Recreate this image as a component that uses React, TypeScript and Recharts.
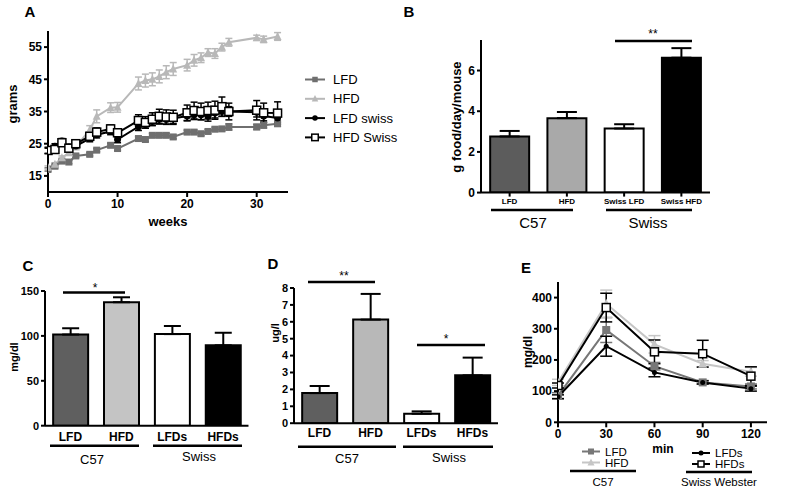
import React from 'react';
import { LineChart, Line, BarChart, Bar, Cell, XAxis, YAxis, ErrorBar } from 'recharts';

const FONT = "'Liberation Sans', Arial, Helvetica, sans-serif";

// A: body weight over time
const weeks = [0, 1, 2, 3, 4, 6, 7, 9, 10, 13, 14, 15, 16, 17, 18, 20, 21, 22, 23, 24, 25, 26, 30, 31, 33];
const lfdWeight = [17, 18, 19.6, 19.3, 21.2, 21.7, 23, 24.5, 23.5, 26.6, 26.3, 27.6, 27.6, 27.6, 27.1, 28.6, 28.6, 28.1, 28.8, 29.5, 29.6, 30.2, 30.2, 30.7, 31.2];
const lfdWeightErr = [0.5, 0.5, 0.5, 0.5, 0.5, 0.5, 0.5, 0.6, 0.6, 0.6, 0.6, 0.6, 0.6, 0.6, 0.6, 0.6, 0.6, 0.6, 0.6, 0.6, 0.6, 1, 0.8, 0.8, 0.8];
const hfdWeight = [17.6, 18.6, 20.6, 22.2, 24, 29.3, 33.5, 36.2, 36.3, 43.7, 44.6, 45, 45.9, 47.2, 48.2, 49.4, 50.9, 51.7, 53.3, 53, 55, 56.5, 57.9, 57.4, 58.3];
const hfdWeightErr = [0.5, 0.5, 0.6, 0.6, 0.6, 1.3, 2, 1.5, 1.5, 2, 2, 2, 2, 2, 2, 1.8, 1.8, 1.5, 1.2, 1.5, 1.2, 1.2, 0.8, 1, 1.2];
const lfdSwissWeight = [22.8, 24.2, 25.8, 24, 24.3, 26.6, 27.8, 28.8, 26.3, 30.3, 31, 32, 32.6, 32.5, 32.8, 33.6, 34, 34, 33.5, 34.5, 35, 35, 34.8, 33.6, 33];
const lfdSwissErr = [0.8, 0.8, 0.8, 0.8, 0.8, 1, 1, 1, 1, 1.2, 1.2, 1.2, 1.5, 1.5, 1.5, 1.5, 1.5, 1.5, 1.5, 1.5, 1.5, 1.5, 1.5, 1.5, 1.5];
const hfdSwissWeight = [22.9, 23.2, 25.3, 23.6, 25, 27.3, 28.6, 29.6, 28.4, 32.2, 31.6, 32.6, 33.5, 33.3, 33.2, 34.6, 35.3, 35, 35.3, 35.4, 36.5, 35, 35.4, 34.6, 34.5];
const hfdSwissErr = [1, 1, 1, 1, 1, 1.2, 1.3, 1.2, 1.2, 1.8, 1.8, 2, 2.2, 2.2, 2.2, 2.4, 2.6, 2.6, 2.6, 2.8, 3, 2.6, 3, 3, 3.5];

// B: food intake
const intakeGroups = ['LFD', 'HFD', 'Swiss LFD', 'Swiss HFD'];
const intake = [2.76, 3.66, 3.15, 6.63];
const intakeErr = [0.27, 0.3, 0.21, 0.47];

// C: glucose (mg/dl)
const bloodGroups = ['LFD', 'HFD', 'LFDs', 'HFDs'];
const glucose = [101.5, 137.5, 102, 89.5];
const glucoseErr = [7, 5.5, 9, 14];

// D: insulin (ug/l)
const insulin = [1.78, 6.13, 0.56, 2.83];
const insulinErr = [0.42, 1.52, 0.14, 1.05];

// E: glucose tolerance test
const minutes = [0, 30, 60, 90, 120];
const gttLfd = [85, 296, 180, 128, 115];
const gttLfdErr = [10, 40, 12, 6, 8];
const gttHfd = [128, 380, 250, 188, 162];
const gttHfdErr = [10, 44, 28, 10, 14];
const gttLfds = [82, 244, 160, 128, 108];
const gttLfdsErr = [6, 32, 14, 5, 8];
const gttHfds = [118, 368, 226, 220, 148];
const gttHfdsErr = [8, 46, 38, 43, 30];

const DARK = '#6f6f6f';
const LIGHT = '#b8b8b8';

const weightRows = weeks.map((w, i) => ({
  week: w,
  lfd: lfdWeight[i], lfdErr: lfdWeightErr[i],
  hfd: hfdWeight[i], hfdErr: hfdWeightErr[i],
  lfdS: lfdSwissWeight[i], lfdSErr: lfdSwissErr[i],
  hfdS: hfdSwissWeight[i], hfdSErr: hfdSwissErr[i],
}));

const gttRows = minutes.map((m, i) => ({
  min: m,
  lfd: gttLfd[i], lfdErr: gttLfdErr[i],
  hfd: gttHfd[i], hfdErr: gttHfdErr[i],
  lfds: gttLfds[i], lfdsErr: gttLfdsErr[i],
  hfds: gttHfds[i], hfdsErr: gttHfdsErr[i],
}));

const barRows = (names: string[], vals: number[], errs: number[]) =>
  names.map((n, i) => ({ name: n, value: vals[i], err: [0, errs[i]] }));

type Shape = 'square' | 'triangle' | 'circle' | 'open';

const drawMarker = (shape: Shape, color: string, size: number, cx: number, cy: number, k: string) => {
  const h = size / 2;
  if (shape === 'square') return <rect key={k} x={cx - h} y={cy - h} width={size} height={size} fill={color} />;
  if (shape === 'open')
    return <rect key={k} x={cx - h} y={cy - h} width={size} height={size} fill="#fff" stroke={color} strokeWidth={1.5} />;
  if (shape === 'circle') return <circle key={k} cx={cx} cy={cy} r={h} fill={color} />;
  return <polygon key={k} points={`${cx},${cy - h - 1} ${cx - h - 0.5},${cy + h} ${cx + h + 0.5},${cy + h}`} fill={color} />;
};

const dot = (shape: Shape, color: string, size: number, prefix: string) => (p: any) => {
  const k = `${prefix}-${p.index}`;
  if (p.cx == null || p.cy == null) return <g key={k} />;
  return drawMarker(shape, color, size, p.cx, p.cy, k);
};

// place a chart so that its plot area covers x0..x1, y0..y1 on the page
const place = (x0: number, x1: number, y0: number, y1: number, yw: number, xh: number, mt = 10, mr = 10) => ({
  style: { position: 'absolute' as const, left: x0 - yw, top: y0 - mt },
  width: x1 - x0 + yw + mr,
  height: y1 - y0 + mt + xh,
  margin: { top: mt, right: mr, bottom: 0, left: 0 },
  yw,
  xh,
});

const axisLine = { stroke: '#000', strokeWidth: 2 };
const tickFont = (size: number) => ({ fill: '#000', fontSize: size, fontWeight: 700, fontFamily: FONT });

const seriesA = [
  { key: 'lfd', name: 'LFD', color: DARK, shape: 'square' as Shape, size: 7 },
  { key: 'hfd', name: 'HFD', color: LIGHT, shape: 'triangle' as Shape, size: 7 },
  { key: 'lfdS', name: 'LFD swiss', color: '#000', shape: 'circle' as Shape, size: 7 },
  { key: 'hfdS', name: 'HFD Swiss', color: '#000', shape: 'open' as Shape, size: 8 },
];

const seriesE = [
  { key: 'lfd', name: 'LFD', color: '#777', shape: 'square' as Shape, size: 8, legend: 6 },
  { key: 'hfd', name: 'HFD', color: '#c6c6c6', shape: 'triangle' as Shape, size: 8, legend: 6 },
  { key: 'lfds', name: 'LFDs', color: '#000', shape: 'circle' as Shape, size: 5, legend: 5 },
  { key: 'hfds', name: 'HFDs', color: '#000', shape: 'open' as Shape, size: 8, legend: 6 },
];

const BarPanel = ({ rows, colors, box, domain, ticks, yTick, xTick, xTickSize, xTickLine, cap }: any) => (
  <div style={box.style}>
    <BarChart width={box.width} height={box.height} data={rows} margin={box.margin} barCategoryGap="16%">
      <XAxis dataKey="name" interval={0} axisLine={axisLine} tickLine={xTickLine ? axisLine : false}
        tickSize={xTickSize} tickMargin={2} tick={tickFont(xTick)} height={box.xh} />
      <YAxis domain={domain} ticks={ticks} interval={0} axisLine={axisLine} tickLine={axisLine} tickSize={4} tickMargin={2}
        tick={tickFont(yTick)} width={box.yw} allowDataOverflow />
      <Bar dataKey="value" stroke="#000" strokeWidth={2} isAnimationActive={false}>
        {rows.map((_r: any, i: number) => (
          <Cell key={`c-${i}`} fill={colors[i]} />
        ))}
        <ErrorBar dataKey="err" width={cap} stroke="#000" strokeWidth={2} direction="y" isAnimationActive={false} />
      </Bar>
    </BarChart>
  </div>
);

const Overlay = () => {
  const T = (x: number, y: number, s: string, size: number, bold = false, rot = false) => (
    <text x={x} y={y} textAnchor="middle" dominantBaseline="central" fontSize={size}
      fontWeight={bold ? 700 : 400} fontFamily={FONT} fill="#000"
      transform={rot ? `rotate(-90 ${x} ${y})` : undefined}>{s}</text>
  );
  const L = (x1: number, x2: number, y: number) => <line x1={x1} x2={x2} y1={y} y2={y} stroke="#000" strokeWidth={2.5} />;
  return (
    <svg width={794} height={492} style={{ position: 'absolute', left: 0, top: 0, pointerEvents: 'none' }}>
      {/* panel letters */}
      {T(30, 11, 'A', 15, true)}
      {T(409, 11, 'B', 15, true)}
      {T(28, 265, 'C', 15, true)}
      {T(273, 263, 'D', 15, true)}
      {T(526, 267, 'E', 15, true)}
      {/* A */}
      {T(12, 104, 'grams', 13, true, true)}
      {T(168, 221, 'weeks', 13, true)}
      {seriesA.map((s, i) => (
        <g key={s.key}>
          <line x1={305} x2={325} y1={79.5 + i * 19.3} y2={79.5 + i * 19.3} stroke={s.color} strokeWidth={2} />
          {drawMarker(s.shape, s.color, s.size - 1.5, 315, 79.5 + i * 19.3, `la-${i}`)}
          <text x={333} y={79.5 + i * 19.3} dominantBaseline="central" fontSize={13} fontFamily={FONT} fill="#000">{s.name}</text>
        </g>
      ))}
      {/* B */}
      {T(456, 117, 'g food/day/mouse', 13, true, true)}
      {L(615, 692, 41)}
      {T(653, 34, '**', 12)}
      {L(491, 573, 210)}
      {L(606, 692, 210)}
      {T(533, 222, 'C57', 15)}
      {T(648, 222, 'Swiss', 15)}
      {/* C */}
      {T(14, 357, 'mg/dl', 11, true, true)}
      {L(63, 125, 292.5)}
      {T(95, 288, '*', 12)}
      {L(50, 139, 445.7)}
      {L(153, 242, 445.7)}
      {T(92, 459, 'C57', 13)}
      {T(199, 456, 'Swiss', 13)}
      {/* D */}
      {T(274.5, 333, 'ug/l', 11, true, true)}
      {L(308, 375, 282)}
      {T(344, 276, '**', 12)}
      {L(417, 485, 345)}
      {T(446, 339, '*', 12)}
      {L(298, 396, 446.7)}
      {L(403, 493, 446.7)}
      {T(347, 458, 'C57', 13)}
      {T(449, 457, 'Swiss', 13)}
      {/* E */}
      {T(528, 352, 'mg/dl', 12, true, true)}
      {T(663, 449, 'min', 12, true)}
      {seriesE.map((s, i) => {
        const x = i < 2 ? 582 : 692;
        const y = i < 2 ? 451.5 + i * 11 : 453 + (i - 2) * 11;
        return (
          <g key={s.key}>
            <line x1={x} x2={x + 18} y1={y} y2={y} stroke={s.color} strokeWidth={2} />
            {drawMarker(s.shape, s.color, s.legend, x + 9, y, `le-${i}`)}
            <text x={x + 23} y={y} dominantBaseline="central" fontSize={11.5} fontFamily={FONT} fill="#000">{s.name}</text>
          </g>
        );
      })}
      {L(570, 636, 471)}
      {L(686, 752, 472)}
      {T(603, 482, 'C57', 11.5)}
      {T(719, 482, 'Swiss Webster', 11.5)}
    </svg>
  );
};

const App = () => {
  const a = place(48, 288, 31, 192, 40, 30);
  const b = place(481, 710, 39.7, 192.3, 30, 20);
  const c = place(44.5, 248, 291, 425.7, 30, 20);
  const d = place(293.5, 497.5, 287.5, 422.7, 20, 20);
  const e = place(558, 767, 282.2, 422.5, 40, 25);

  return (
    <div style={{ position: 'absolute', left: 0, top: 0, width: 794, height: 492, background: '#fff', fontFamily: FONT, overflow: 'hidden' }}>
      <div style={a.style}>
        <LineChart width={a.width} height={a.height} data={weightRows} margin={a.margin}>
          <XAxis type="number" dataKey="week" domain={[0, 34.5]} ticks={[0, 10, 20, 30]} axisLine={axisLine}
            tickLine={axisLine} tickSize={5} tickMargin={2} tick={tickFont(12)} height={30} allowDataOverflow />
          <YAxis domain={[10, 60]} ticks={[15, 25, 35, 45, 55]} interval={0} axisLine={axisLine} tickLine={axisLine}
            tickSize={4} tickMargin={2} tick={tickFont(12)} width={40} allowDataOverflow />
          {seriesA.map((s) => (
            <Line key={s.key} dataKey={s.key} stroke={s.color} strokeWidth={2} isAnimationActive={false}
              dot={dot(s.shape, s.color, s.size, `a-${s.key}`)} activeDot={false}>
              <ErrorBar dataKey={`${s.key}Err`} width={3.5} stroke={s.color} strokeWidth={1.5} direction="y" isAnimationActive={false} />
            </Line>
          ))}
        </LineChart>
      </div>

      <BarPanel rows={barRows(intakeGroups, intake, intakeErr)} colors={['#5c5c5c', '#a9a9a9', '#fff', '#000']}
        box={b} domain={[0, 7.5]} ticks={[0, 2, 4, 6]} yTick={12} xTick={8} xTickSize={4} xTickLine cap={10} />
      <BarPanel rows={barRows(bloodGroups, glucose, glucoseErr)} colors={['#5f5f5f', '#c4c4c4', '#fff', '#000']}
        box={c} domain={[0, 150]} ticks={[0, 50, 100, 150]} yTick={11} xTick={12} xTickSize={5} xTickLine={false} cap={8.5} />
      <BarPanel rows={barRows(bloodGroups, insulin, insulinErr)} colors={['#5f5f5f', '#b8b8b8', '#fff', '#000']}
        box={d} domain={[0, 8]} ticks={[0, 1, 2, 3, 4, 5, 6, 7, 8]} yTick={11} xTick={12} xTickSize={3} xTickLine={false} cap={10} />

      <div style={e.style}>
        <LineChart width={e.width} height={e.height} data={gttRows} margin={e.margin}>
          <XAxis type="number" dataKey="min" domain={[0, 130]} ticks={minutes} axisLine={axisLine}
            tickLine={axisLine} tickSize={5} tickMargin={2} tick={tickFont(12)} height={25} allowDataOverflow />
          <YAxis domain={[0, 450]} ticks={[0, 100, 200, 300, 400]} interval={0} axisLine={axisLine} tickLine={axisLine}
            tickSize={4} tickMargin={2} tick={tickFont(12)} width={40} allowDataOverflow />
          {seriesE.map((s) => (
            <Line key={s.key} dataKey={s.key} stroke={s.color} strokeWidth={2} isAnimationActive={false}
              dot={dot(s.shape, s.color, s.size, `e-${s.key}`)} activeDot={false}>
              <ErrorBar dataKey={`${s.key}Err`} width={6} stroke={s.color} strokeWidth={1.5} direction="y" isAnimationActive={false} />
            </Line>
          ))}
        </LineChart>
      </div>

      <Overlay />
    </div>
  );
};

export default App;
